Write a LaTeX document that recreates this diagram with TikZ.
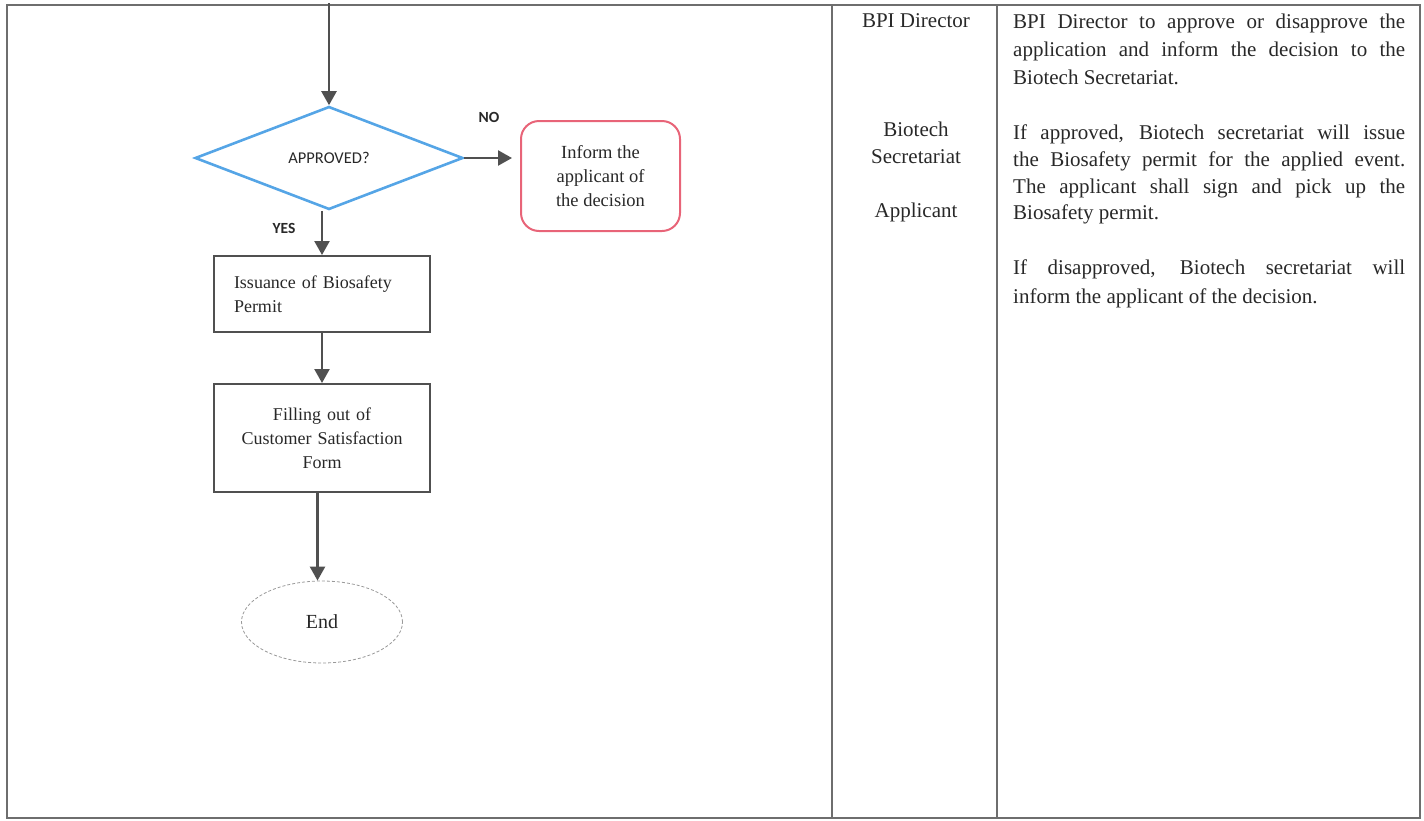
\documentclass[tikz,border=0pt]{standalone}
\usepackage{fontspec}
\setmainfont{Liberation Serif}
\newfontfamily\calib{Carlito}
\usetikzlibrary{shapes.geometric,arrows.meta}
\definecolor{arrowgray}{RGB}{80,80,80}
\definecolor{diablue}{RGB}{85,165,230}
\definecolor{boxred}{RGB}{232,100,120}
\definecolor{tablegray}{RGB}{110,110,110}
\definecolor{textgray}{RGB}{40,40,40}
\tikzset{
  flowarrow/.style={draw=arrowgray, line width=2.4pt, -{Triangle[width=15pt,length=14pt]}},
  procbox/.style={draw=arrowgray, line width=2pt, minimum width=216pt, inner sep=0pt, font=\fontsize{18}{24}\selectfont, text=textgray},
  decision/.style={diamond, draw=diablue, line width=2.6pt, minimum width=268pt, minimum height=103pt, inner sep=0pt, font=\calib\fontsize{16.5}{20}\selectfont, text=textgray},
  infobox/.style={draw=boxred, line width=2pt, rounded corners=18pt, minimum width=159pt, minimum height=110pt, align=center, font=\fontsize{18.5}{24}\selectfont, text=textgray},
  endell/.style={ellipse, draw=gray!80, line width=0.8pt, densely dashed, minimum width=161pt, minimum height=82pt, inner sep=0pt, font=\fontsize{20}{24}\selectfont, text=textgray},
  flaglabel/.style={font=\calib\bfseries\fontsize{15.5}{18}\selectfont, text=textgray, inner sep=0pt},
  tableline/.style={draw=tablegray, line width=1.2pt},
  role/.style={anchor=base, inner sep=0pt, font=\fontsize{21}{27}\selectfont, text=textgray},
  rt/.style={anchor=base west, inner sep=0pt, font=\fontsize{21}{27}\selectfont, text=textgray},
}
\newcommand{\jline}[1]{\makebox[392pt][s]{#1}}
\begin{document}
\begin{tikzpicture}[x=1pt,y=-1pt]
\useasboundingbox (0,0) rectangle (1424,820);
% table
\draw[tableline] (7,5) -- (1420,5) -- (1420,818) -- (7,818) -- cycle;
\draw[tableline] (832,5) -- (832,818);
\draw[tableline] (997,5) -- (997,818);

% flowchart
\coordinate (topin) at (329,3);
\node[decision] (dec) at (329,158) {APPROVED?};
\node[infobox] (inform) at (600.5,176) {Inform the\\applicant of\\the decision};
\node[procbox, minimum height=76pt, text width=176pt, align=left] (issue) at (322,294) {Issuance of Biosafety\\Permit};
\node[procbox, minimum height=108pt, text width=210pt, align=center] (form) at (322,438) {Filling out of\\Customer Satisfaction\\Form\\[7pt]};
\node[endell] (endn) at (322,622) {End};
\node[flaglabel] (no) at (489,117) {NO};
\node[flaglabel] (yes) at (284,228) {YES};

\draw[flowarrow] (topin) -- (dec.north);
\draw[flowarrow, shorten >=8pt] (dec.east) -- (dec.east -| inform.west);
\draw[flowarrow] (dec.south -| issue.north) -- (issue.north);
\draw[flowarrow] (issue.south) -- (form.north);
\draw[flowarrow] ([xshift=-4.5pt]form.south) -- ([xshift=-4.5pt]form.south |- endn.north);

% role column
\node[role] (r1) at (916,27) {BPI Director};
\node[role] (r2) at (916,136) {Biotech};
\node[role] (r3) at (916,163) {Secretariat};
\node[role] (r4) at (916,217) {Applicant};

% description column
\node[rt] (d1) at (1013,28) {\jline{BPI Director to approve or disapprove the}};
\node[rt] (d2) at (1013,56) {\jline{application and inform the decision to the}};
\node[rt] (d3) at (1013,84) {Biotech Secretariat.};
\node[rt] (d4) at (1013,139) {\jline{If approved, Biotech secretariat will issue}};
\node[rt] (d5) at (1013,166) {\jline{the Biosafety permit for the applied event.}};
\node[rt] (d6) at (1013,193) {\jline{The applicant shall sign and pick up the}};
\node[rt] (d7) at (1013,219) {Biosafety permit.};
\node[rt] (d8) at (1013,274) {\jline{If disapproved, Biotech secretariat will}};
\node[rt] (d9) at (1013,303) {inform the applicant of the decision.};
\end{tikzpicture}
\end{document}
